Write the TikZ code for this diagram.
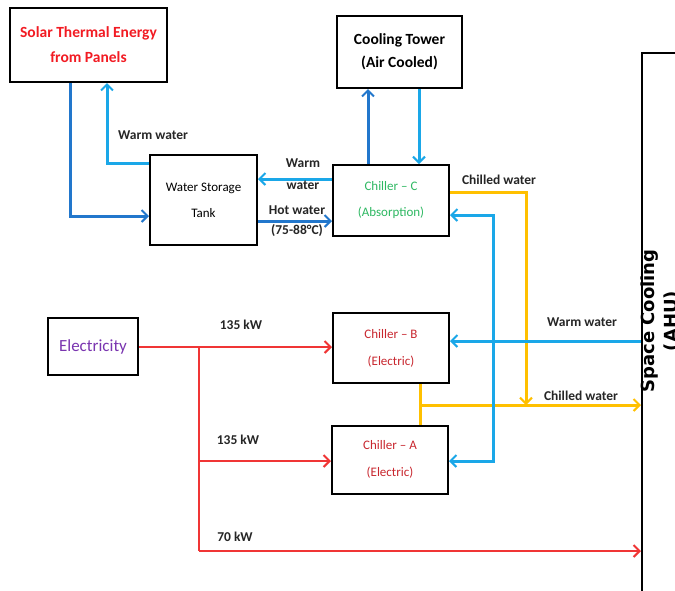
\documentclass[tikz,border=0pt]{standalone}
\usepackage{fontspec}
\setmainfont{Carlito}
\newfontfamily\dejavu{DejaVu Sans}
\usetikzlibrary{arrows.meta}
\definecolor{warmblue}{HTML}{1AA7E8}
\definecolor{hotblue}{HTML}{2277CC}
\definecolor{elecred}{HTML}{F03535}
\definecolor{chillyel}{HTML}{FFC000}
\definecolor{solarred}{HTML}{F21B23}
\definecolor{chgreen}{HTML}{2EB862}
\definecolor{chred}{HTML}{C8262E}
\definecolor{elecpurple}{HTML}{7A35B0}
\tikzset{
  x=1pt, y=-1pt,
  box/.style={draw=black, line width=2pt, inner sep=0pt, align=center},
  tip/.style={-{Straight Barb[length=6pt,width=12pt,line width=2pt]}},
  warm/.style={draw=warmblue, line width=3pt},
  hot/.style={draw=hotblue, line width=3pt},
  elec/.style={draw=elecred, line width=2pt},
  chill/.style={draw=chillyel, line width=3pt},
  lbl/.style={font=\fontsize{13.5}{15}\selectfont\bfseries, inner sep=0pt, text=black!85}
}
\begin{document}
\begin{tikzpicture}
\fill[white] (0,0) rectangle (675,590);
\clip (0,0) rectangle (675,590);

% boxes
\node[box, minimum width=157pt, minimum height=74pt, text=solarred,
      font=\fontsize{15.5}{25}\selectfont\bfseries] (solar) at (88.5,45)
      {Solar Thermal Energy\\from Panels};
\node[box, minimum width=125pt, minimum height=72pt,
      font=\fontsize{15.5}{23}\selectfont\bfseries] (tower) at (399.5,52)
      {Cooling Tower\\(Air Cooled)};
\node[box, minimum width=107pt, minimum height=90pt,
      font=\fontsize{13}{26}\selectfont] (tank) at (203.5,200)
      {Water Storage\\Tank};
\node[box, minimum width=116pt, minimum height=71pt, text=chgreen,
      font=\fontsize{13}{26}\selectfont] (chc) at (391,200.5)
      {Chiller -- C\\(Absorption)};
\node[box, minimum width=90pt, minimum height=57pt, text=elecpurple,
      font=\fontsize{17}{20}\selectfont] (elec) at (93,346.5)
      {Electricity};
\node[box, minimum width=116pt, minimum height=70pt, text=chred,
      font=\fontsize{13}{27}\selectfont] (chb) at (391,348)
      {Chiller -- B\\(Electric)};
\node[box, minimum width=116pt, minimum height=68pt, text=chred,
      font=\fontsize{13}{27}\selectfont] (cha) at (390,459.5)
      {Chiller -- A\\(Electric)};
\node[box, minimum width=90pt, minimum height=580pt, anchor=north west] (space) at (641,52) {};
\node[rotate=90, inner sep=0pt, font=\dejavu\bfseries\fontsize{18}{20}\selectfont] (spt) at (650,321) {Space Cooling};
\node[rotate=90, inner sep=0pt, font=\dejavu\bfseries\fontsize{18}{20}\selectfont] (ahu) at (672,321) {(AHU)};

% coordinates
\coordinate (jw) at (493,341);
\coordinate (jy) at (526,405);
\coordinate (jb) at (420,405);
\coordinate (jr) at (199,347);
\coordinate (jra) at (199,461);
\coordinate (jrs) at (199,551);

% solar loop
\draw[hot, tip] (solar.south -| 70,0) |- (tank.west |- 0,216);
\draw[warm, tip] (tank.west |- 0,163) -| (solar.south -| 107,0);

% tank <-> chiller C
\draw[warm, tip] (chc.west |- 0,179) -- (tank.east |- 0,179);
\draw[hot, tip] (tank.east |- 0,221) -- (chc.west |- 0,221);

% cooling tower
\draw[hot, tip] (chc.north -| 368,0) -- (tower.south -| 368,0);
\draw[warm, tip] (tower.south -| 419,0) -- (chc.north -| 419,0);

% chilled water
\draw[chill, tip] (chc.east |- 0,192) -| (jy);
\draw[chill] (chb.south -| jb) -- (cha.north -| jb);
\draw[chill, tip] (jb) -- (space.west |- jb);

% warm water return
\draw[warm, tip] (space.west |- jw) -- (chb.east |- jw);
\draw[warm, tip] (jw) |- (chc.east |- 0,215);
\draw[warm, tip] (jw) |- (cha.east |- 0,461);

% electricity
\draw[elec, tip] (elec.east |- jr) -- (chb.west |- jr);
\draw[elec] (jr) -- (jrs);
\draw[elec, tip] (jra) -- (cha.west |- jra);
\draw[elec, tip] (jrs) -- (space.west |- jrs);

% labels
\node[lbl] (l1) at (153,135) {Warm water};
\node[lbl] (l2) at (303,163) {Warm};
\node[lbl] (l3) at (303,185) {water};
\node[lbl] (l4) at (297,210) {Hot water};
\node[lbl] (l5) at (297,231) {(75-88°C)};
\node[lbl] (l6) at (499,180) {Chilled water};
\node[lbl] (l7) at (582,322) {Warm water};
\node[lbl] (l8) at (581,396) {Chilled water};
\node[lbl] (l9) at (241,325) {135 kW};
\node[lbl] (l10) at (238,440) {135 kW};
\node[lbl] (l11) at (235,537) {70 kW};
\end{tikzpicture}
\end{document}
